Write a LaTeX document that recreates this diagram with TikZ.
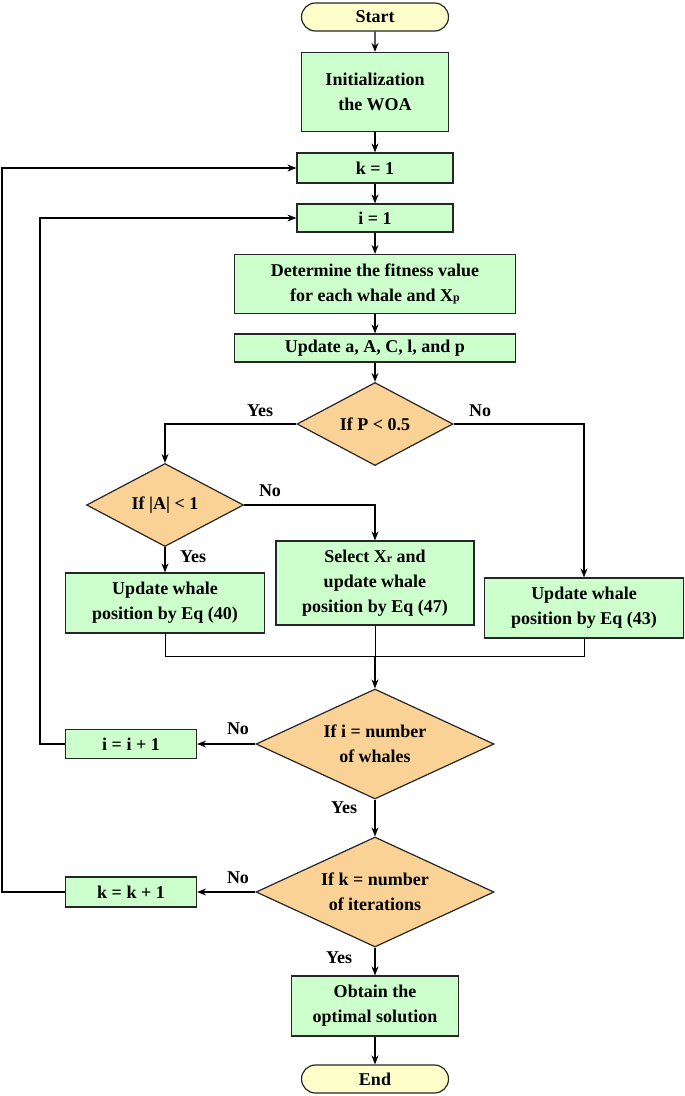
\documentclass[tikz,border=0pt]{standalone}
\usepackage{fontspec}
\setmainfont{Liberation Serif}
\usetikzlibrary{shapes.geometric,shapes.misc,arrows.meta}
\definecolor{bgreen}{RGB}{204,255,204}
\definecolor{dor}{RGB}{250,210,150}
\definecolor{tyel}{RGB}{255,255,204}
\newcommand{\sbs}[1]{\raisebox{-0.5pt}{\fontsize{12}{12}\selectfont #1}}
\begin{document}
\begin{tikzpicture}[x=1pt,y=-1pt,
  base/.style={draw=black!85,line width=1.2pt,font=\fontsize{18}{25}\selectfont\bfseries,align=center,inner sep=0pt},
  box/.style={base,rectangle,fill=bgreen},
  term/.style={base,rounded rectangle,fill=tyel},
  dia/.style={base,diamond,fill=dor,aspect=1.9},
  arr/.style={-{Stealth[length=9pt,width=7pt]},line width=1.1pt},
  ln/.style={line width=0.8pt},
  lab/.style={font=\fontsize{18}{22}\selectfont\bfseries,inner sep=0pt}]
\useasboundingbox (0,0) rectangle (685,1096);
\node[term,minimum width=147,minimum height=28] (start) at (375,17) {Start};
\node[box,minimum width=147,minimum height=79] (init) at (375,92) {Initialization\\the WOA};
\node[box,minimum width=156,minimum height=30] (k1) at (375,168) {k = 1};
\node[box,minimum width=156,minimum height=28] (i1) at (375,218) {i = 1};
\node[box,minimum width=281,minimum height=59] (fit) at (375,284) {Determine the fitness value\\for each whale and X\sbs{p}};
\node[box,minimum width=281,minimum height=28] (upd) at (375,348) {Update a, A, C, l, and p};
\node[dia,minimum width=156,minimum height=83] (dp) at (375,424) {};
\node[lab] at (375,424) {If P < 0.5};
\node[dia,minimum width=157,minimum height=83] (da) at (165,505) {};
\node[lab] at (165,505) {If |A| < 1};
\node[box,minimum width=199,minimum height=60] (e40) at (165,603) {Update whale\\position by Eq (40)};
\node[box,minimum width=198,minimum height=84] (e47) at (375,583) {Select X\sbs{r} and\\update whale\\position by Eq (47)};
\node[box,minimum width=199,minimum height=60] (e43) at (584,608) {Update whale\\position by Eq (43)};
\coordinate (m) at (375,656);
\node[dia,minimum width=238,minimum height=110] (di) at (375,744) {};
\node[lab,align=center,font=\fontsize{18}{25}\selectfont\bfseries] at (375,744) {If i = number\\of whales};
\node[box,minimum width=131,minimum height=29] (ii) at (131,744) {i = i + 1};
\node[dia,minimum width=238,minimum height=110] (dk) at (375,892) {};
\node[lab,align=center,font=\fontsize{18}{25}\selectfont\bfseries] at (375,892) {If k = number\\of iterations};
\node[box,minimum width=131,minimum height=30] (kk) at (131,892) {k = k + 1};
\node[box,minimum width=167,minimum height=60] (opt) at (375,1006) {Obtain the\\optimal solution};
\node[term,minimum width=147,minimum height=28] (end) at (375,1079) {End};
\draw[arr] (start) -- (init);
\draw[arr] (init) -- (k1);
\draw[arr] (k1) -- (i1);
\draw[arr] (i1) -- (fit);
\draw[arr] (fit) -- (upd);
\draw[arr] (upd) -- (dp);
\draw[arr] (dp.west) -| (da.north);
\draw[arr] (dp.east) -| (e43.north);
\draw[arr] (da.east) -| (e47.north);
\draw[arr] (da.south) -- (e40.north);
\draw[ln] (e40.south) |- (m) -| (e43.south);
\draw[ln] (e47.south) -- (m);
\draw[arr] (m) -- (di.north);
\draw[arr] (di.west) -- (ii.east);
\draw[arr] (ii.west) -- (40,744) |- (i1.west);
\draw[arr] (di.south) -- (dk.north);
\draw[arr] (dk.west) -- (kk.east);
\draw[arr] (kk.west) -- (2,892) |- (k1.west);
\draw[arr] (dk.south) -- (opt.north);
\draw[arr] (opt) -- (end);
\node[lab] at (260,411) {Yes};
\node[lab] at (480,411) {No};
\node[lab] at (270,491) {No};
\node[lab] at (193,557) {Yes};
\node[lab] at (238,729) {No};
\node[lab] at (344,808) {Yes};
\node[lab] at (238,878) {No};
\node[lab] at (339,958) {Yes};
\end{tikzpicture}
\end{document}
